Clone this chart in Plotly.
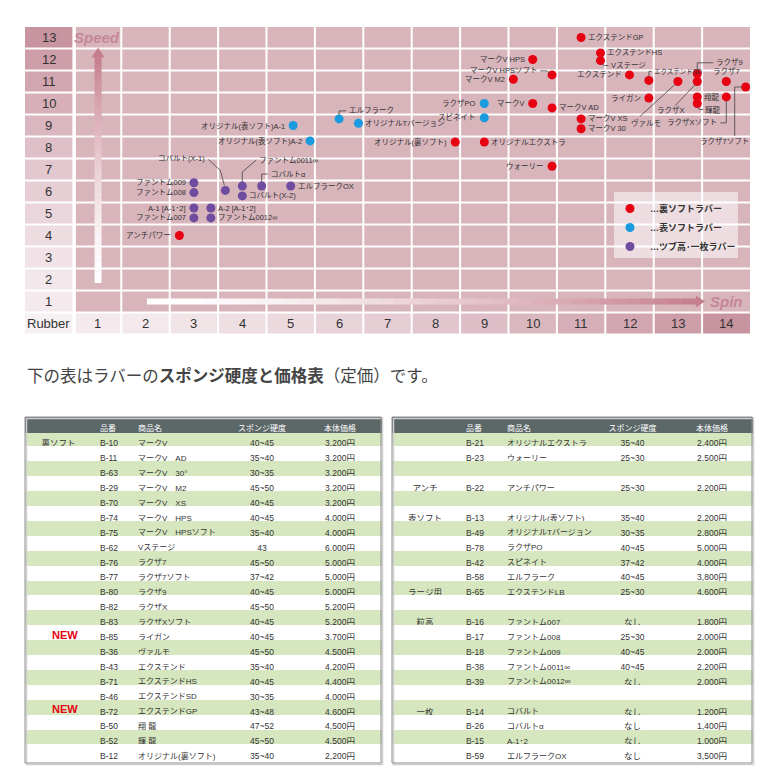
import plotly.graph_objects as go

# The page body has an 8px margin, so all pixel positions below are page
# positions shifted by OFF into figure space.
OFF = 8
FW, FH = 772 - OFF, 782 - OFF

# ---------------- chart data (spin = x, speed = y) ----------------
ura_names = ["エクステンドGP", "エクステンドHS", "Vステージ", "エクステンド", "エクステンドSD", "ヴァルモ",
             "ラクザ9", "ラクザX", "ラクザ7", "ラクザ7ソフト", "ライガン", "翔龍", "輝龍", "ラクザXソフト",
             "マークV XS", "マークV 30", "マークV AD", "マークV", "マークV HPS", "マークV HPSソフト", "マークV M2",
             "オリジナルエクストラ", "オリジナル(裏ソフト)", "ウォーリー", "アンチパワー"]
ura_spin = [11.0, 11.4, 11.4, 12.0, 12.4, 13.0, 13.4, 13.4, 14.0, 14.4, 12.4, 13.4, 13.4, 14.0,
            11.0, 11.0, 10.4, 10.0, 10.0, 10.4, 9.6, 9.0, 8.4, 10.4, 2.7]
ura_speed = [13.0, 12.3, 11.95, 11.3, 11.05, 11.0, 11.35, 11.0, 11.0, 10.75, 10.25, 10.3, 10.0, 10.3,
             9.3, 8.85, 9.8, 10.0, 12.0, 11.3, 11.1, 8.25, 8.25, 7.15, 4.0]

omote_names = ["ラクザPO", "スピネイト", "エルフラーク", "オリジナルTバージョン",
               "オリジナル(表ソフト)A-1", "オリジナル(表ソフト)A-2"]
omote_spin = [9.0, 9.0, 6.0, 6.4, 5.05, 5.4]
omote_speed = [10.0, 9.35, 9.3, 9.1, 9.0, 8.3]

tsubu_names = ["ファントム009", "ファントム008", "A-1 [A-1･2]", "ファントム007", "A-2 [A-1･2]",
               "ファントム0012∞", "コバルト(X-1)", "ファントム0011∞", "コバルトα", "コバルト(X-2)", "エルフラークOX"]
tsubu_spin = [3.0, 3.0, 3.0, 3.0, 3.35, 3.35, 3.65, 4.0, 4.4, 4.0, 5.0]
tsubu_speed = [6.4, 5.95, 5.25, 4.8, 5.25, 4.8, 6.05, 6.25, 6.25, 5.8, 6.25]

series_names = ["…裏ソフトラバー", "…表ソフトラバー", "…ツブ高･一枚ラバー"]

speed_ticks = [str(i) for i in range(1, 14)]
spin_ticks = [str(i) for i in range(1, 15)]
corner_label = "Rubber"
speed_title = "Speed"
spin_title = "Spin"

intro_text = "下の表はラバーの<b>スポンジ硬度と価格表</b>（定価）です。"

# ---------------- table data ----------------
tbl_header = ["", "品番", "商品名", "スポンジ硬度", "本体価格"]
new_mark = "NEW"

l_cat = ["裏ソフト", "", "", "", "", "", "", "", "", "", "", "", "", "NEW", "", "", "", "", "NEW", "", "", ""]
l_code = ["B-10", "B-11", "B-63", "B-29", "B-70", "B-74", "B-75", "B-62", "B-76", "B-77", "B-80",
          "B-82", "B-83", "B-85", "B-36", "B-43", "B-71", "B-46", "B-72", "B-50", "B-52", "B-12"]
l_name = ["マークV", "マークV　AD", "マークV　30°", "マークV　M2", "マークV　XS", "マークV　HPS",
          "マークV　HPSソフト", "Vステージ", "ラクザ7", "ラクザ7ソフト", "ラクザ9", "ラクザX", "ラクザXソフト",
          "ライガン", "ヴァルモ", "エクステンド", "エクステンドHS", "エクステンドSD", "エクステンドGP",
          "翔 龍", "輝 龍", "オリジナル(裏ソフト)"]
l_sponge = ["40~45", "35~40", "30~35", "45~50", "40~45", "40~45", "35~40", "43", "45~50", "37~42",
            "40~45", "45~50", "40~45", "40~45", "45~50", "35~40", "40~45", "30~35", "43~48", "47~52",
            "45~50", "35~40"]
l_price = ["3,200円", "3,200円", "3,200円", "3,200円", "3,200円", "4,000円", "4,000円", "6,000円",
           "5,000円", "5,000円", "5,000円", "5,200円", "5,200円", "3,700円", "4,500円", "4,200円",
           "4,400円", "4,000円", "4,600円", "4,500円", "4,500円", "2,200円"]

r_cat = ["", "", "", "アンチ", "", "表ソフト", "", "", "", "", "ラージ用", "", "粒高", "", "", "", "", "",
         "一枚", "", "", ""]
r_code = ["B-21", "B-23", "", "B-22", "", "B-13", "B-49", "B-78", "B-42", "B-58", "B-65", "",
          "B-16", "B-17", "B-18", "B-38", "B-39", "", "B-14", "B-26", "B-15", "B-59"]
r_name = ["オリジナルエクストラ", "ウォーリー", "", "アンチパワー", "", "オリジナル(表ソフト)",
          "オリジナルTバージョン", "ラクザPO", "スピネイト", "エルフラーク", "エクステンドLB", "",
          "ファントム007", "ファントム008", "ファントム009", "ファントム0011∞", "ファントム0012∞", "",
          "コバルト", "コバルトα", "A-1･2", "エルフラークOX"]
r_sponge = ["35~40", "25~30", "", "25~30", "", "35~40", "30~35", "40~45", "37~42", "40~45", "25~30", "",
            "なし", "25~30", "40~45", "40~45", "なし", "", "なし", "なし", "なし", "なし"]
r_price = ["2,400円", "2,500円", "", "2,200円", "", "2,200円", "2,800円", "5,000円", "4,000円", "3,800円",
           "4,600円", "", "1,800円", "2,000円", "2,000円", "2,200円", "2,000円", "", "1,200円", "1,400円",
           "1,000円", "3,500円"]

# ---------------- styles ----------------
FONT = "Liberation Sans, Noto Sans CJK JP, sans-serif"
JFONT = "Noto Sans CJK JP, sans-serif"
TXT = "#333333"
RED, BLUE, PURPLE = "#e60012", "#1a9be0", "#6e4c9f"
MAIN = (216, 180, 187)
LIGHT = (244, 234, 237)
DARK = (200, 148, 160)
ARROW_TOP = (198, 126, 142)
GREEN = "#d6e7c0"
HEAD = "#5c6768"
TBL_TOP, HEAD_H, ROW_H = 417, 15, 14.9


def fx(px):
    return (px - OFF) / FW


def fy(py):
    return 1 - (py - OFF) / FH


XPX, YPX = 48.4, 22.0          # pixels per data unit
X_DOM = [fx(24.5), fx(750.5)]
Y_DOM = [fy(334.5), fy(26.5)]


def mix(c1, c2, t):
    return "rgb(%d,%d,%d)" % tuple(round(a + (b - a) * t) for a, b in zip(c1, c2))


shapes = []
annotations = []


def rect(x0, x1, y0, y1, color, layer="below", ref=("x", "y")):
    shapes.append(dict(type="rect", xref=ref[0], yref=ref[1], x0=x0, x1=x1, y0=y0, y1=y1,
                       fillcolor=color, line=dict(width=0), layer=layer))


# grid cells
gx, gy = 1 / XPX, 1 / YPX
ncol, nrow = len(spin_ticks) + 1, len(speed_ticks) + 1
for c in range(ncol):
    x0 = c - 0.5 + gx * (3 if c == 1 else (0.5 if c == 0 else 1))
    x1 = c + 0.5 - gx * (0.5 if c in (0, ncol - 1) else 1)
    for r in range(nrow):
        y0 = r - 0.5 + gy * 1
        y1 = r + 0.5 - gy * (0.5 if r == nrow - 1 else 1)
        if c == 0 and r == 0:
            col = mix(LIGHT, (255, 255, 255), 0.3)
        elif c == 0:
            col = mix(LIGHT, DARK, ((r - 1) / (nrow - 2)) ** 1.3)
        elif r == 0:
            col = mix(LIGHT, DARK, ((c - 1) / (ncol - 2)) ** 1.4)
        else:
            col = "rgb(%d,%d,%d)" % MAIN
        rect(x0, x1, y0, y1, col)

# Speed arrow (gradient)
N = 40
sx, sb, sh, st = 1.02, 1.84, 12.09, 12.55
hw = 3.5 / XPX
for i in range(N):
    a = sb + (sh - sb) * i / N
    b = sb + (sh - sb) * (i + 1.05) / N
    rect(sx - hw, sx + hw, a, b, mix((255, 255, 255), ARROW_TOP, ((i + 0.5) / N) ** 1.5))
shapes.append(dict(type="path", xref="x", yref="y", layer="below", line=dict(width=0),
                   fillcolor=mix((255, 255, 255), ARROW_TOP, 1),
                   path=f"M {sx - 6.5 / XPX},{sh} L {sx + 6.5 / XPX},{sh} L {sx},{st} Z"))
# Spin arrow (gradient)
py_, pl, ph, pt = 1.0, 2.03, 13.37, 13.56
hh = 3.0 / YPX
for i in range(N):
    a = pl + (ph - pl) * i / N
    b = pl + (ph - pl) * (i + 1.05) / N
    rect(a, b, py_ - hh, py_ + hh, mix((255, 255, 255), ARROW_TOP, ((i + 0.5) / N) ** 1.5))
shapes.append(dict(type="path", xref="x", yref="y", layer="below", line=dict(width=0),
                   fillcolor=mix((255, 255, 255), ARROW_TOP, 1),
                   path=f"M {ph},{py_ - 6 / YPX} L {ph},{py_ + 6 / YPX} L {pt},{py_} Z"))

# legend box
rect(11.68, 14.24, 2.98, 5.98, "rgba(255,255,255,0.55)")

# tick labels
for i, t in enumerate(speed_ticks):
    annotations.append(dict(x=0, y=i + 1, xref="x", yref="y", text=t, showarrow=False,
                            font=dict(family=FONT, size=13, color=TXT)))
for i, t in enumerate(spin_ticks):
    annotations.append(dict(x=i + 1, y=0, xref="x", yref="y", text=t, showarrow=False,
                            font=dict(family=FONT, size=13, color=TXT)))
annotations.append(dict(x=0, y=0, xref="x", yref="y", text=corner_label, showarrow=False,
                        font=dict(family=FONT, size=13, color=TXT)))
annotations.append(dict(x=1, y=13, xref="x", yref="y", text=f"<b><i>{speed_title}</i></b>", showarrow=False,
                        font=dict(family=FONT, size=15, color="#c4879a")))
annotations.append(dict(x=14, y=1, xref="x", yref="y", text=f"<b><i>{spin_title}</i></b>", showarrow=False,
                        font=dict(family=FONT, size=15, color="#c4879a")))

# label placements: (xanchor, dx px, dy px (down +), leader polyline offsets in px)
R, L = ("left", 5, 0, None), ("right", -6, 0, None)
PLACE = {
    "エクステンドGP": R, "エクステンドHS": R,
    "Vステージ": ("left", 9, 5, [(1, 3), (4, 5), (8, 5)]),
    "エクステンド": L,
    "エクステンドSD": ("left", 3, -9, [(0, -4), (0, -9), (3, -9)]),
    "ヴァルモ": ("center", -32, 41, [(-3, 3), (-38, 35)]),
    "ラクザ9": ("left", 17, -11, [(0, -4), (0, -11), (16, -11)]),
    "ラクザX": ("center", -26, 29, [(-2, 3), (-22, 24)]),
    "ラクザ7": ("center", 0, -10, None),
    "ラクザ7ソフト": ("center", -21, 54, [(-4, 0), (-11, 0), (-11, 49)]),
    "ライガン": L, "翔龍": R,
    "輝龍": ("left", 6, 6, [(1, 4), (2, 6), (6, 6)]),
    "ラクザXソフト": ("right", -7, 26, [(0, 4), (0, 26), (-6, 26)]),
    "マークV XS": R, "マークV 30": R, "マークV AD": R, "マークV": L, "マークV HPS": L,
    "マークV HPSソフト": ("right", -12, -4, [(-12, -4), (-5, -4), (-2, -1)]),
    "マークV M2": L, "オリジナルエクストラ": R, "オリジナル(裏ソフト)": L, "ウォーリー": L, "アンチパワー": L,
    "ラクザPO": L, "スピネイト": L,
    "エルフラーク": ("left", 8, -8, [(0, -4), (0, -8), (7, -8)]),
    "オリジナルTバージョン": R, "オリジナル(表ソフト)A-1": L, "オリジナル(表ソフト)A-2": L,
    "ファントム009": L, "ファントム008": L, "A-1 [A-1･2]": L, "ファントム007": L,
    "A-2 [A-1･2]": R, "ファントム0012∞": R,
    "コバルト(X-1)": ("right", -18, -32, [(-1, -5), (-5, -20), (-17, -31)]),
    "ファントム0011∞": ("left", 15, -26, [(0, -4), (0, -14), (14, -26)]),
    "コバルトα": ("left", 7, -12, [(0, -4), (0, -12), (6, -12)]),
    "コバルト(X-2)": R, "エルフラークOX": R,
}
SMALL = {"エクステンドSD": 6.5}


def add_labels(names, xs, ys):
    for n, x, y in zip(names, xs, ys):
        anchor, dx, dy, leader = PLACE.get(n, R)
        annotations.append(dict(x=x, y=y, xref="x", yref="y", text=n, showarrow=False,
                                xanchor=anchor, yanchor="middle", xshift=dx, yshift=-dy,
                                font=dict(family=FONT, size=SMALL.get(n, 7.5), color=TXT)))
        if leader:
            path = "M " + " L ".join(f"{x + px / XPX},{y - pyy / YPX}" for px, pyy in leader)
            shapes.append(dict(type="path", xref="x", yref="y", path=path, layer="above",
                               line=dict(color="#444444", width=0.8)))


fig = go.Figure()
for name, xs, ys, col, labels in [(series_names[0], ura_spin, ura_speed, RED, ura_names),
                                  (series_names[1], omote_spin, omote_speed, BLUE, omote_names),
                                  (series_names[2], tsubu_spin, tsubu_speed, PURPLE, tsubu_names)]:
    fig.add_trace(go.Scatter(x=xs, y=ys, mode="markers", name=name, text=labels,
                             marker=dict(color=col, size=9, line=dict(width=0)),
                             hoverinfo="text"))
    add_labels(labels, xs, ys)

annotations.append(dict(x=fx(25), y=fy(375), xref="paper", yref="paper", text=intro_text,
                        showarrow=False, xanchor="left", yanchor="middle",
                        font=dict(family=JFONT, size=16.5, color="#444444")))


# ---------------- tables ----------------
def make_table(cat, code, name, sponge, price, x0, x1, widths):
    n = len(code)
    fills = [GREEN if i % 2 == 0 else "white" for i in range(n)]
    # "NEW" badges are drawn bold/red on top of their (blank) category cell
    cat_cells = ["" if c == new_mark else c for c in cat]
    cat_center = x0 + (x1 - x0) * widths[0] / 2 / sum(widths)
    for i, c in enumerate(cat):
        if c == new_mark:
            annotations.append(dict(x=fx(cat_center + 6), y=fy(TBL_TOP + HEAD_H + (i + 0.5) * ROW_H + 1.5),
                                    xref="paper", yref="paper", text=f"<b>{c}</b>", showarrow=False,
                                    xanchor="center", yanchor="middle",
                                    font=dict(family=FONT, size=11, color=RED)))
    fig.add_trace(go.Table(
        domain=dict(x=[fx(x0), fx(x1)], y=[fy(770), fy(TBL_TOP)]),
        columnwidth=widths,
        header=dict(values=tbl_header, fill_color=HEAD, line=dict(color=HEAD, width=1),
                    align=["center", "left", "left", "center", "center"],
                    font=dict(family=FONT, size=8, color="white"), height=HEAD_H),
        cells=dict(values=[cat_cells, code, name, sponge, price], fill_color=[fills] * 5,
                   line=dict(color=[fills] * 5, width=1),
                   align=["center", "left", "left", "center", "center"],
                   font=dict(family=FONT, size=[8.5, 8.5, 8, 8.5, 8.5], color=TXT),
                   height=ROW_H),
    ))
    # border + shadow
    shapes.append(dict(type="rect", xref="paper", yref="paper", x0=fx(x0 + 1.5), x1=fx(x1 + 1.5),
                       y0=fy(764.5), y1=fy(418.5), line=dict(color="#cfcfcf", width=1.5),
                       fillcolor="rgba(0,0,0,0)", layer="above"))
    shapes.append(dict(type="rect", xref="paper", yref="paper", x0=fx(x0), x1=fx(x1),
                       y0=fy(763), y1=fy(TBL_TOP), line=dict(color="#8f8f8f", width=1),
                       fillcolor="rgba(0,0,0,0)", layer="above"))


make_table(l_cat, l_code, l_name, l_sponge, l_price, 25, 381, [67, 38, 95, 74, 82])
make_table(r_cat, r_code, r_name, r_sponge, r_price, 392, 752, [66, 41, 94, 79, 80])

fig.update_layout(
    width=FW, height=FH, margin=dict(l=0, r=0, t=0, b=0),
    paper_bgcolor="white", plot_bgcolor="white",
    xaxis=dict(range=[-0.5, 14.5], domain=X_DOM, visible=False, fixedrange=True),
    yaxis=dict(range=[-0.5, 13.5], domain=Y_DOM, visible=False, fixedrange=True),
    shapes=shapes, annotations=annotations,
    showlegend=True,
    legend=dict(x=fx(610), y=fy(194), xanchor="left", yanchor="top", bgcolor="rgba(0,0,0,0)",
                font=dict(family=FONT, size=9, color=TXT, weight="bold"), itemclick=False,
                itemdoubleclick=False, tracegroupgap=0),
    hovermode="closest",
)

fig.write_html("out.html")
